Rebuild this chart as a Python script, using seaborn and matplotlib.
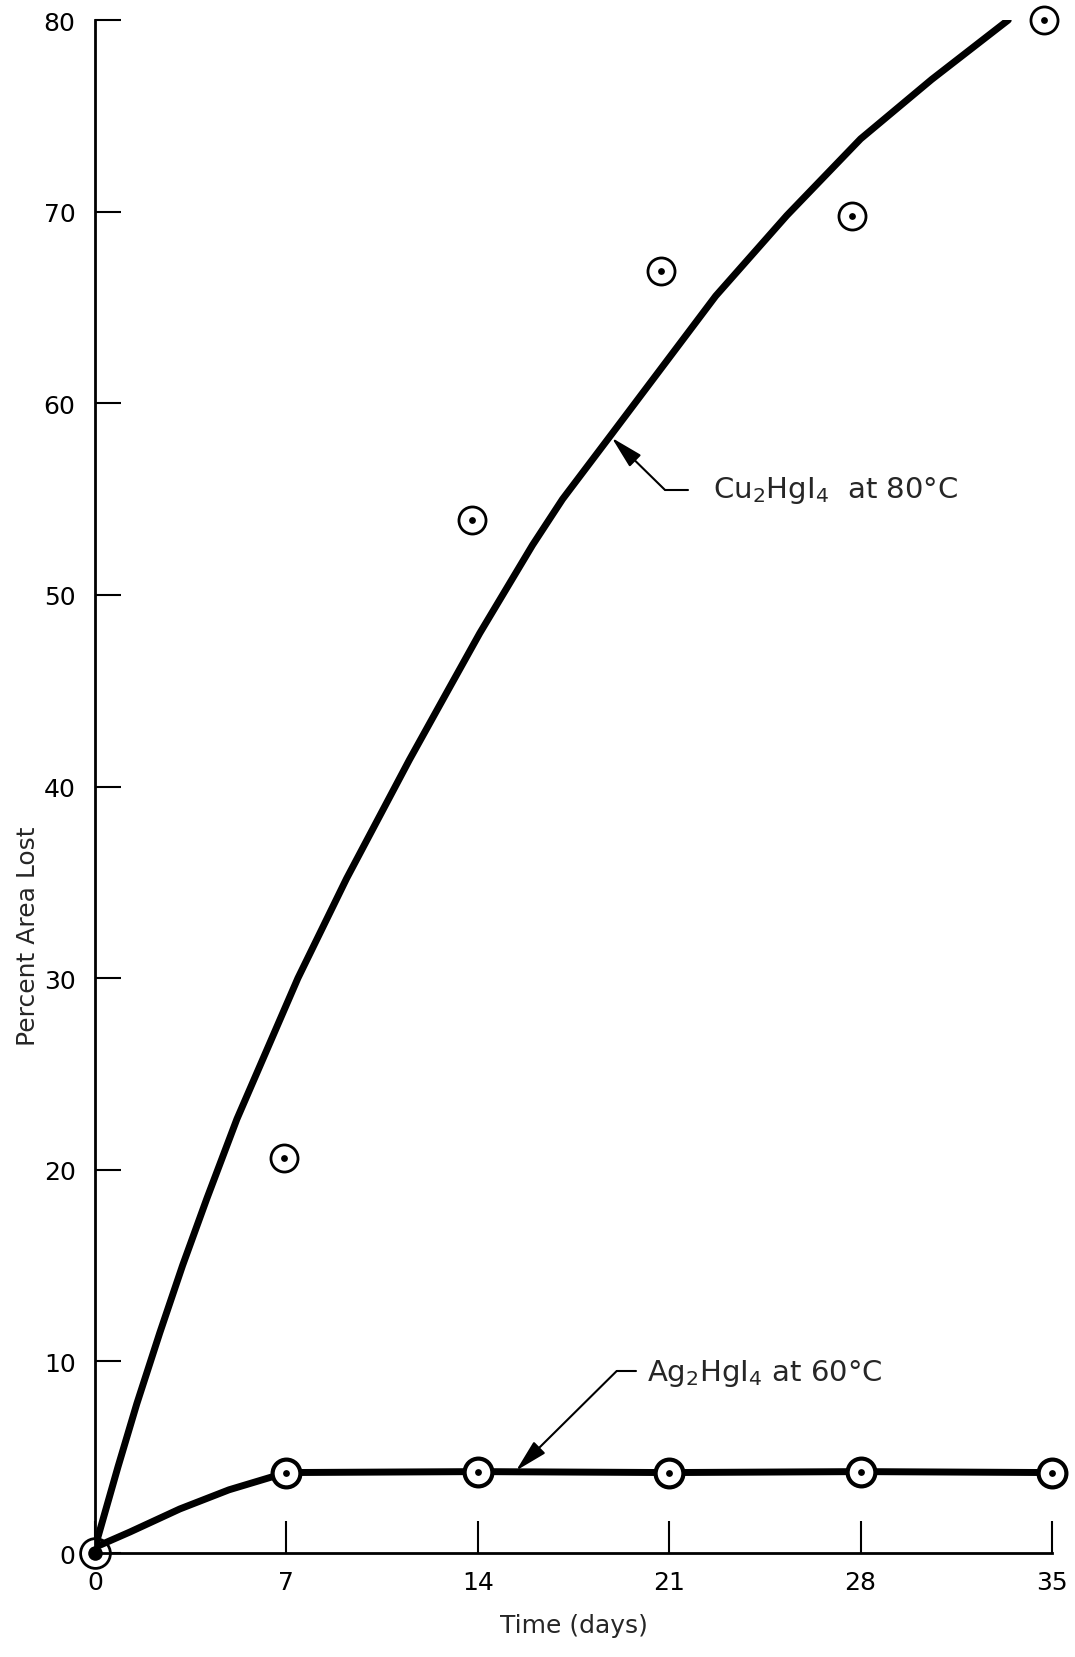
import matplotlib
matplotlib.use("Agg")
import matplotlib.pyplot as plt
import seaborn as sns
import pandas as pd

# ---- data ----
day_ticks = [0, 7, 14, 21, 28, 35]
pct_ticks = [0, 10, 20, 30, 40, 50, 60, 70, 80]

cu_days = [6.9, 13.8, 20.7, 27.7, 34.7]
cu_pct = [20.6, 53.9, 66.9, 69.8, 80.0]
cu_curve_days = [0.0, 0.84, 1.53, 2.37, 3.2, 4.09, 5.19, 7.42, 9.2, 11.5,
                 12.9, 14.07, 16.0, 17.1, 18.9, 22.7, 25.3, 28.0, 30.6, 33.4]
cu_curve_pct = [0.3, 4.5, 7.8, 11.5, 15.0, 18.5, 22.65, 30.0, 35.2, 41.4,
                45.0, 48.0, 52.6, 55.0, 58.4, 65.6, 69.8, 73.8, 76.9, 80.0]

ag_days = [7, 14, 21, 28, 35]
ag_pct = [4.2, 4.25, 4.2, 4.25, 4.2]
ag_curve_days = [0.0, 1.28, 3.1, 4.9, 7.0, 14, 21, 28, 35]
ag_curve_pct = [0.3, 1.1, 2.3, 3.3, 4.2, 4.25, 4.2, 4.25, 4.2]

origin_days = [0]
origin_pct = [0]

cu_label = r"Cu$_2$HgI$_4$  at 80°C"
ag_label = r"Ag$_2$HgI$_4$ at 60°C"

cu_scatter = pd.DataFrame({"days": cu_days, "pct": cu_pct})
ag_scatter = pd.DataFrame({"days": ag_days, "pct": ag_pct})
cu_line = pd.DataFrame({"days": cu_curve_days, "pct": cu_curve_pct})
ag_line = pd.DataFrame({"days": ag_curve_days, "pct": ag_curve_pct})
origin = pd.DataFrame({"days": origin_days, "pct": origin_pct})

sns.set_style("ticks")
plt.rcParams["font.family"] = ["DejaVu Sans"]
plt.rcParams["mathtext.default"] = "regular"

fig = plt.figure(figsize=(10.75, 16.58), dpi=100)
ax = fig.add_axes([0.0884, 0.0627, 0.8902, 0.9246])

# curves
sns.lineplot(data=cu_line, x="days", y="pct", ax=ax, color="black", lw=5,
             sort=False, estimator=None, solid_capstyle="round",
             solid_joinstyle="round", zorder=3)
sns.lineplot(data=ag_line, x="days", y="pct", ax=ax, color="black", lw=5,
             sort=False, estimator=None, solid_capstyle="round",
             solid_joinstyle="round", zorder=3)

# circled-dot markers
sns.scatterplot(data=cu_scatter, x="days", y="pct", ax=ax, s=380, color="white",
                edgecolor="black", linewidth=2, zorder=4, clip_on=False)
sns.scatterplot(data=cu_scatter, x="days", y="pct", ax=ax, s=24, color="black",
                edgecolor="black", linewidth=0, zorder=5, clip_on=False)
sns.scatterplot(data=ag_scatter, x="days", y="pct", ax=ax, s=400, color="white",
                edgecolor="black", linewidth=3, zorder=4, clip_on=False)
sns.scatterplot(data=ag_scatter, x="days", y="pct", ax=ax, s=24, color="black",
                edgecolor="black", linewidth=0, zorder=5, clip_on=False)
sns.scatterplot(data=origin, x="days", y="pct", ax=ax, s=460, color="white",
                edgecolor="black", linewidth=2, zorder=2, clip_on=False)
sns.scatterplot(data=origin, x="days", y="pct", ax=ax, s=110, color="black",
                edgecolor="black", linewidth=0, zorder=6, clip_on=False)

ax.set_xlim(0, 35)
ax.set_ylim(0, 80)
ax.set_xticks(day_ticks)
ax.set_yticks(pct_ticks)
ax.set_xticklabels([str(t) for t in day_ticks])
ax.set_yticklabels([str(t) for t in pct_ticks])

for s in ["top", "right"]:
    ax.spines[s].set_visible(False)
for s in ["left", "bottom"]:
    ax.spines[s].set_linewidth(2)
    ax.spines[s].set_color("black")

ax.tick_params(axis="y", direction="in", length=19, width=1.5, pad=14,
               labelsize=18, colors="black")
ax.tick_params(axis="x", direction="in", length=23, width=1.5, pad=12,
               labelsize=18, colors="black")

ax.set_xlabel("Time (days)", fontsize=18)
ax.set_ylabel("Percent Area Lost", fontsize=18)
ax.xaxis.set_label_coords(0.5, -0.039)
ax.yaxis.set_label_coords(-0.058, 0.403)

# annotations with leader lines
arrow = dict(arrowstyle="-|>,head_length=1.0,head_width=0.25", color="black",
             lw=1.5, mutation_scale=20, shrinkA=0, shrinkB=0)
ax.annotate("", xy=(18.9, 58.2), xytext=(20.83, 55.5), arrowprops=arrow, zorder=6)
ax.plot([20.83, 21.7], [55.5, 55.5], color="black", lw=1.5)
ax.text(22.6, 55.5, cu_label, fontsize=21, va="center", ha="left")

ax.annotate("", xy=(15.4, 4.3), xytext=(19.08, 9.5), arrowprops=arrow, zorder=6)
ax.plot([19.08, 19.8], [9.5, 9.5], color="black", lw=1.5)
ax.text(20.2, 9.4, ag_label, fontsize=21, va="center", ha="left")

fig.savefig("out.png", dpi=100)
